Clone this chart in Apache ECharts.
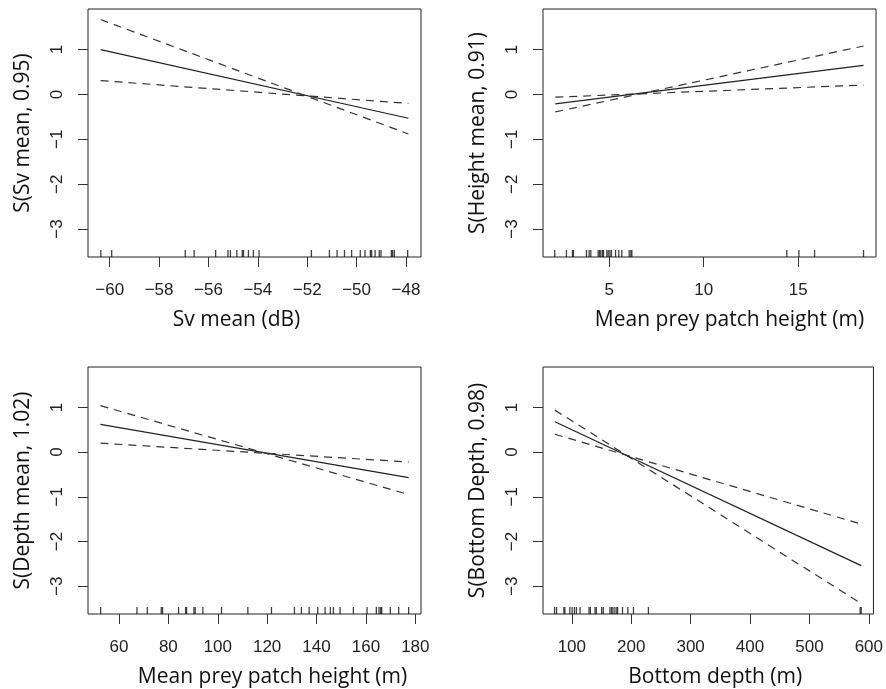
<!DOCTYPE html>
<html><head><meta charset="utf-8">
<script src="https://cdn.jsdelivr.net/npm/echarts@6/dist/echarts.min.js"></script>
<style>html,body{margin:0;padding:0;background:#fff}#c{width:886px;height:689px}</style>
</head><body><div id="c"></div>
<script>
// shared y axis ticks
const yTicks = [-3, -2, -1, 0, 1];

// Panel 1: Sv mean
const p1X = [-60.37, -47.90];
const p1Fit = [1.00, -0.53];
const p1BandA = [1.67, -0.88];
const p1BandB = [0.31, -0.20];
const p1Rug = [-60.36, -59.92, -56.94, -56.58, -55.71, -55.21, -55.11, -54.85, -54.63, -54.58, -54.38, -54.18, -53.95,
  -51.83, -51.10, -50.79, -50.49, -50.20, -49.85, -49.66, -49.44, -49.39, -49.25, -49.08, -49.01, -48.59, -48.54, -48.47, -47.93];
const p1Ticks = [-60, -58, -56, -54, -52, -50, -48];

// Panel 2: Height mean
const p2X = [2.15, 18.46];
const p2Fit = [-0.21, 0.65];
const p2BandA = [-0.39, 1.08];
const p2BandB = [-0.06, 0.21];
const p2Rug = [2.12, 2.74, 3.06, 3.11, 3.80, 3.94, 4.03, 4.42, 4.49, 4.56, 4.65, 4.70, 4.88, 4.95, 5.04, 5.12, 5.34, 5.51,
  5.67, 6.06, 6.15, 6.20, 14.40, 15.04, 15.87, 18.46];
const p2Ticks = [5, 10, 15];

// Panel 3: Depth mean
const p3X = [52.5, 177.3];
const p3Fit = [0.62, -0.57];
const p3BandA = [1.04, -0.95];
const p3BandB = [0.20, -0.22];
const p3Rug = [52.58, 67.28, 71.46, 77.12, 77.66, 84.13, 86.97, 87.37, 90.34, 90.88, 93.98, 101.53, 112.18, 121.75,
  131.05, 133.88, 136.99, 140.49, 143.46, 145.62, 146.83, 149.53, 154.92, 160.45, 164.22, 165.30, 165.98, 166.38,
  169.88, 173.26, 177.30];
const p3Ticks = [60, 80, 100, 120, 140, 160, 180];

// Panel 4: Bottom depth
const p4X = [71.5, 587.2];
const p4Fit = [0.68, -2.54];
const p4BandA = [0.94, -3.39];
const p4BandB = [0.40, -1.61];
const p4Rug = [70.98, 74.33, 86.61, 88.28, 96.65, 100.56, 104.46, 107.81, 113.95, 129.02, 131.25, 139.06, 141.29,
  150.22, 153.01, 164.17, 166.96, 169.20, 172.54, 175.89, 177.01, 185.38, 194.31, 203.79, 228.91, 585.49, 587.17];
const p4Ticks = [100, 200, 300, 400, 500, 600];

const xTitles = ['Sv mean (dB)', 'Mean prey patch height (m)', 'Mean prey patch height (m)', 'Bottom depth (m)'];
const yTitles = ['S(Sv mean, 0.95)', 'S(Height mean, 0.91)', 'S(Depth mean, 1.02)', 'S(Bottom Depth, 0.98)'];

const Y_MIN = -3.623, Y_MAX = 1.905;
const panels = [
  {x: p1X, fit: p1Fit, a: p1BandA, b: p1BandB, rug: p1Rug, ticks: p1Ticks, min: -60.88, max: -47.39, shift: -18},
  {x: p2X, fit: p2Fit, a: p2BandA, b: p2BandB, rug: p2Rug, ticks: p2Ticks, min: 1.50, max: 19.12, shift: 20},
  {x: p3X, fit: p3Fit, a: p3BandA, b: p3BandB, rug: p3Rug, ticks: p3Ticks, min: 47.46, max: 182.3, shift: 18},
  {x: p4X, fit: p4Fit, a: p4BandA, b: p4BandB, rug: p4Rug, ticks: p4Ticks, min: 51.5, max: 607.8, shift: 7}
];
const gridPos = [
  {left: 88, top: 9, width: 333, height: 248},
  {left: 543, top: 9, width: 333, height: 248},
  {left: 88, top: 367, width: 333, height: 247},
  {left: 543, top: 367, width: 333, height: 247}
];

const fmt = v => String(v).replace('-', '\u2212');
const tickFont = {fontFamily: "'Liberation Sans', Arial, sans-serif", fontSize: 17, color: '#222'};
const nameFont = {fontFamily: "'Open Sans', sans-serif", fontSize: 21, color: '#111'};

const grid = [], xAxis = [], yAxis = [], series = [];
panels.forEach((p, i) => {
  grid.push(Object.assign({show: true, borderColor: '#222', borderWidth: 1, backgroundColor: 'transparent'}, gridPos[i]));
  const sh = p.shift;
  xAxis.push({
    type: 'value', gridIndex: i, min: p.min, max: p.max, position: 'bottom',
    name: xTitles[i], nameLocation: 'middle', nameGap: 53,
    nameTextStyle: Object.assign({}, nameFont, {padding: sh > 0 ? [0, 0, 0, 2 * sh] : [0, -2 * sh, 0, 0]}),
    axisLine: {show: false, onZero: false},
    axisTick: {show: true, length: 10, customValues: p.ticks, lineStyle: {color: '#333', width: 1}},
    axisLabel: Object.assign({customValues: p.ticks, margin: 25, formatter: fmt}, tickFont),
    splitLine: {show: false}
  });
  yAxis.push({
    type: 'value', gridIndex: i, min: Y_MIN, max: Y_MAX, position: 'left',
    name: yTitles[i], nameLocation: 'middle', nameGap: 54, nameRotate: 90,
    nameTextStyle: nameFont,
    axisLine: {show: false, onZero: false},
    axisTick: {show: true, length: 10, customValues: yTicks, lineStyle: {color: '#333', width: 1}},
    axisLabel: Object.assign({customValues: yTicks, margin: 22, rotate: 90, formatter: fmt}, tickFont),
    splitLine: {show: false}
  });
  const pts = arr => p.x.map((xv, k) => [xv, arr[k]]);
  series.push({type: 'line', xAxisIndex: i, yAxisIndex: i, data: pts(p.fit), showSymbol: false, silent: true,
    lineStyle: {color: '#222', width: 1.2, type: 'solid'}});
  series.push({type: 'line', xAxisIndex: i, yAxisIndex: i, data: pts(p.a), showSymbol: false, silent: true,
    lineStyle: {color: '#333', width: 1.2, type: [8, 6]}});
  series.push({type: 'line', xAxisIndex: i, yAxisIndex: i, data: pts(p.b), showSymbol: false, silent: true,
    lineStyle: {color: '#333', width: 1.2, type: [8, 6]}});
  series.push({type: 'scatter', xAxisIndex: i, yAxisIndex: i, data: p.rug.map(v => [v, Y_MIN]), clip: false,
    symbol: 'rect', symbolSize: [1.3, 7], symbolOffset: [0, -3.5], silent: true,
    itemStyle: {color: '#111'}});
});

const chart = echarts.init(document.getElementById('c'), null, {renderer: 'canvas'});
chart.setOption({animation: false, backgroundColor: '#fff', grid, xAxis, yAxis, series});
</script>
</body></html>
